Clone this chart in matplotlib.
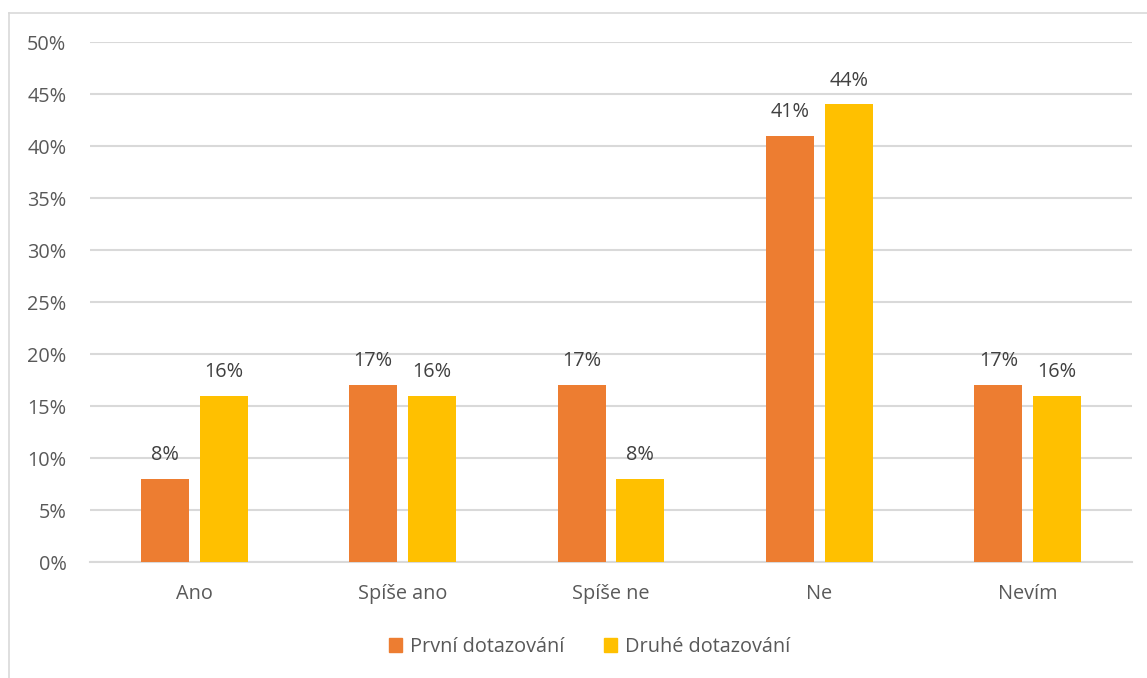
import matplotlib
matplotlib.use("Agg")
import matplotlib.pyplot as plt
from matplotlib.patches import Patch
import numpy as np

categories = ["Ano", "Spíše ano", "Spíše ne", "Ne", "Nevím"]
series_names = ["První dotazování", "Druhé dotazování"]
prvni = [8, 17, 17, 41, 17]
druhe = [16, 16, 8, 44, 16]
colors = ["#ED7D31", "#FFC000"]
yticks = [0, 5, 10, 15, 20, 25, 30, 35, 40, 45, 50]

plt.rcParams['font.family'] = ['Open Sans', 'DejaVu Sans']
txt = "#595959"
lbl = "#404040"
fs = 14.3

fig = plt.figure(figsize=(11.47, 6.78), dpi=100)
ax = fig.add_axes([90/1147, 1-562/678, (1132-90)/1147, (562-42)/678])

x = np.arange(len(categories))
w = 0.231
off = 0.141
b1 = ax.bar(x - off, prvni, w, color=colors[0], zorder=3)
b2 = ax.bar(x + off, druhe, w, color=colors[1], zorder=3)
for bars, vals in ((b1, prvni), (b2, druhe)):
    for r, v in zip(bars, vals):
        ax.annotate(f"{v}%", (r.get_x() + r.get_width()/2, v), xytext=(0, 10),
                    textcoords="offset points", ha="center", va="bottom",
                    fontsize=fs, color=lbl)

ax.set_xlim(-0.5, len(categories) - 0.5)
ax.set_ylim(0, 50)
ax.set_yticks(yticks)
ax.set_yticklabels([f"{t}%" for t in yticks])
ax.set_xticks(x)
ax.set_xticklabels(categories)
ax.tick_params(axis="both", length=0, labelsize=fs, labelcolor=txt)
ax.tick_params(axis="y", pad=17)
ax.tick_params(axis="x", pad=16)
ax.grid(axis="y", color="#D9D9D9", linewidth=1.5, zorder=0)
for s in ["top", "right", "left"]:
    ax.spines[s].set_visible(False)
ax.spines["bottom"].set_color("#D9D9D9")
ax.spines["bottom"].set_linewidth(1.5)

handles = [Patch(color=c) for c in colors]
fig.legend(handles, series_names, loc="center", bbox_to_anchor=(590/1147, 1-647/678),
           ncol=2, frameon=False, fontsize=fs, labelcolor=txt,
           handlelength=0.65, handleheight=0.65, handletextpad=0.4, columnspacing=2.0)

# chart-area border (top and left visible)
fig.add_artist(plt.Line2D([9/1147, 1], [1-13/678, 1-13/678], color="#D9D9D9", linewidth=1.2))
fig.add_artist(plt.Line2D([9/1147, 9/1147], [0, 1-13/678], color="#D9D9D9", linewidth=1.2))

fig.savefig("out.png", dpi=100)
